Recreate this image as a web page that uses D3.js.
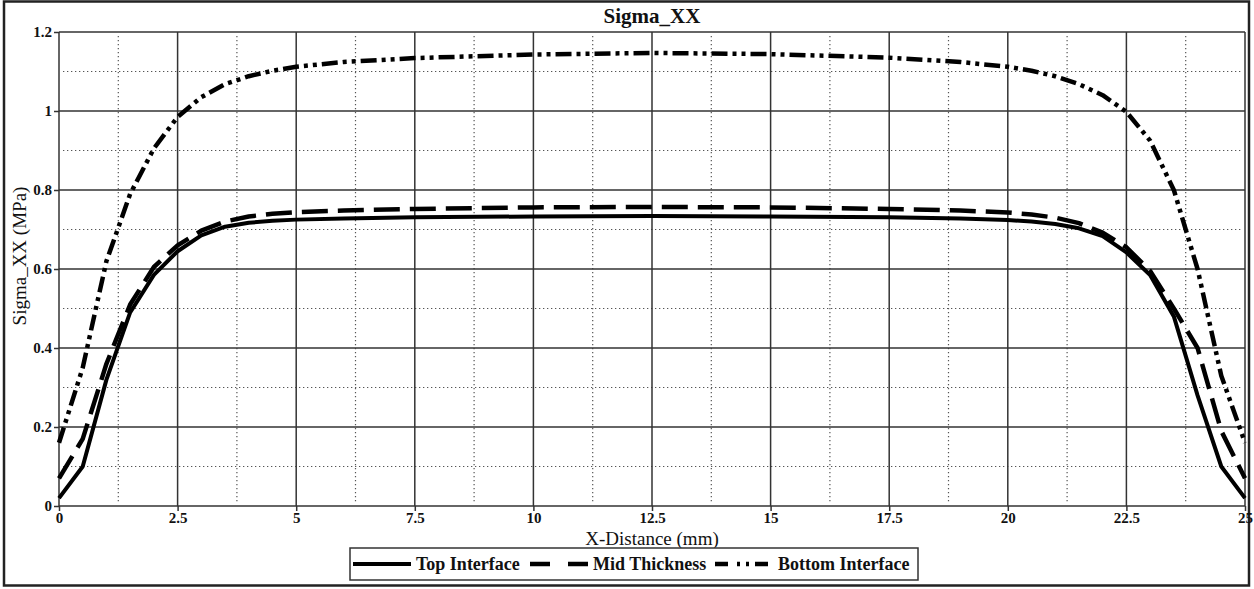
<!DOCTYPE html>
<meta charset="utf-8">
<style>
body { margin: 0; background: #fff; }
text { font-family: "Liberation Serif", "Times New Roman", serif; fill: #111; }
.tick text { font-size: 15px; font-weight: bold; fill: #111; }
.tick line { stroke: #333; stroke-width: 1.5; }
</style>
<body>
<script src="https://cdn.jsdelivr.net/npm/d3@7"></script>
<div id="content"></div>
<script>
var width = 1254,
    height = 589;

var xValues = [0, 0.5, 1, 1.5, 2, 2.5, 3, 3.5, 4, 4.5, 5, 6, 7.5, 10, 12.5, 15, 17.5, 19, 20, 20.5, 21, 21.5, 22, 22.5, 23, 23.5, 24, 24.5, 25];
var topInterface = [0.02, 0.10, 0.32, 0.49, 0.585, 0.645, 0.685, 0.707, 0.717, 0.722, 0.725, 0.728, 0.731, 0.733, 0.734, 0.733, 0.731, 0.728, 0.724, 0.72, 0.714, 0.703, 0.683, 0.642, 0.585, 0.48, 0.28, 0.10, 0.02];
var midThickness = [0.07, 0.17, 0.36, 0.51, 0.605, 0.66, 0.697, 0.72, 0.733, 0.74, 0.744, 0.748, 0.752, 0.756, 0.757, 0.756, 0.752, 0.748, 0.743, 0.738, 0.73, 0.716, 0.692, 0.655, 0.595, 0.50, 0.40, 0.19, 0.07];
var bottomInterface = [0.16, 0.35, 0.62, 0.79, 0.905, 0.985, 1.035, 1.068, 1.088, 1.102, 1.112, 1.124, 1.134, 1.143, 1.147, 1.144, 1.135, 1.124, 1.112, 1.102, 1.088, 1.068, 1.04, 0.998, 0.925, 0.80, 0.60, 0.33, 0.16];

var seriesNames = ["Top Interface", "Mid Thickness", "Bottom Interface"];
var xTicks = [0, 2.5, 5, 7.5, 10, 12.5, 15, 17.5, 20, 22.5, 25];
var xMinor = [1.25, 3.75, 6.25, 8.75, 11.25, 13.75, 16.25, 18.75, 21.25, 23.75];
var yTicks = [0, 0.2, 0.4, 0.6, 0.8, 1, 1.2];
var yMinor = [0.1, 0.3, 0.5, 0.7, 0.9, 1.1];

// line styles for the three series
var dashes = ["none", "26,10", "16,5,4,5,4,5"];
var widths = [4, 4.5, 4.5];

var x = d3.scaleLinear().domain([0, 25]).range([59, 1245]);
var y = d3.scaleLinear().domain([0, 1.2]).range([506, 32]);

var svg = d3.select("#content").append("svg")
    .attr("width", width)
    .attr("height", height);

// outer frame
svg.append("rect")
    .attr("x", 4).attr("y", 1.5)
    .attr("width", 1245).attr("height", 584)
    .style("fill", "none")
    .style("stroke", "#222")
    .style("stroke-width", 2.5);

// minor dotted grid
svg.selectAll(".vminor")
    .data(xMinor)
    .enter().append("line")
    .attr("x1", d => x(d)).attr("x2", d => x(d))
    .attr("y1", y(1.2) + 4).attr("y2", y(0) - 4)
    .style("stroke", "#555")
    .style("stroke-width", 1.2)
    .style("stroke-dasharray", "1.3,2.7");

svg.selectAll(".hminor")
    .data(yMinor)
    .enter().append("line")
    .attr("x1", x(0) + 4).attr("x2", x(25) - 4)
    .attr("y1", d => y(d)).attr("y2", d => y(d))
    .style("stroke", "#555")
    .style("stroke-width", 1.2)
    .style("stroke-dasharray", "1.3,2.7");

// major grid
svg.selectAll(".vmajor")
    .data(xTicks)
    .enter().append("line")
    .attr("x1", d => x(d)).attr("x2", d => x(d))
    .attr("y1", y(1.2)).attr("y2", y(0))
    .style("stroke", "#333")
    .style("stroke-width", 1.5);

svg.selectAll(".hmajor")
    .data(yTicks)
    .enter().append("line")
    .attr("x1", x(0)).attr("x2", x(25))
    .attr("y1", d => y(d)).attr("y2", d => y(d))
    .style("stroke", "#333")
    .style("stroke-width", 1.5);

// axes
var xAxis = svg.append("g")
    .attr("transform", "translate(0," + y(0) + ")")
    .call(d3.axisBottom(x).tickValues(xTicks).tickSize(5).tickFormat(d3.format("")));
xAxis.select(".domain").remove();
xAxis.selectAll("text").attr("dy", "0.6em");

var yAxis = svg.append("g")
    .attr("transform", "translate(" + x(0) + ",0)")
    .call(d3.axisLeft(y).tickValues(yTicks).tickSize(5).tickPadding(2).tickFormat(d3.format("")));
yAxis.select(".domain").remove();

// series
var series = [topInterface, midThickness, bottomInterface];
var line = d3.line()
    .x((d, i) => x(xValues[i]))
    .y(d => y(d));

svg.selectAll(".series")
    .data(series)
    .enter().append("path")
    .attr("class", "series")
    .attr("d", line)
    .style("fill", "none")
    .style("stroke", "#000")
    .style("stroke-width", (d, i) => widths[i])
    .style("stroke-dasharray", (d, i) => dashes[i])
    .style("stroke-linejoin", "round");

// titles
svg.append("text")
    .attr("x", 652).attr("y", 23)
    .attr("text-anchor", "middle")
    .style("font-size", "21px")
    .style("font-weight", "bold")
    .text("Sigma_XX");

svg.append("text")
    .attr("x", 652).attr("y", 545)
    .attr("text-anchor", "middle")
    .style("font-size", "19px")
    .text("X-Distance (mm)");

svg.append("text")
    .attr("transform", "translate(26,256) rotate(-90)")
    .attr("text-anchor", "middle")
    .style("font-size", "19px")
    .text("Sigma_XX (MPa)");

// legend
var legend = svg.append("g");
legend.append("rect")
    .attr("x", 350).attr("y", 548)
    .attr("width", 568).attr("height", 32)
    .style("fill", "#fff")
    .style("stroke", "#333")
    .style("stroke-width", 1.5);

var legendX = [353, 530, 715];
seriesNames.forEach((name, i) => {
    legend.append("line")
        .attr("x1", legendX[i]).attr("x2", legendX[i] + 58)
        .attr("y1", 564).attr("y2", 564)
        .style("stroke", "#000")
        .style("stroke-width", widths[i])
        .style("stroke-dasharray", i == 1 ? "20,18" : (i == 2 ? "13,9,3,6,3,6" : "none"));
    legend.append("text")
        .attr("x", legendX[i] + 63).attr("y", 570)
        .style("font-size", "18px")
        .style("font-weight", "bold")
        .text(name);
});
</script>
